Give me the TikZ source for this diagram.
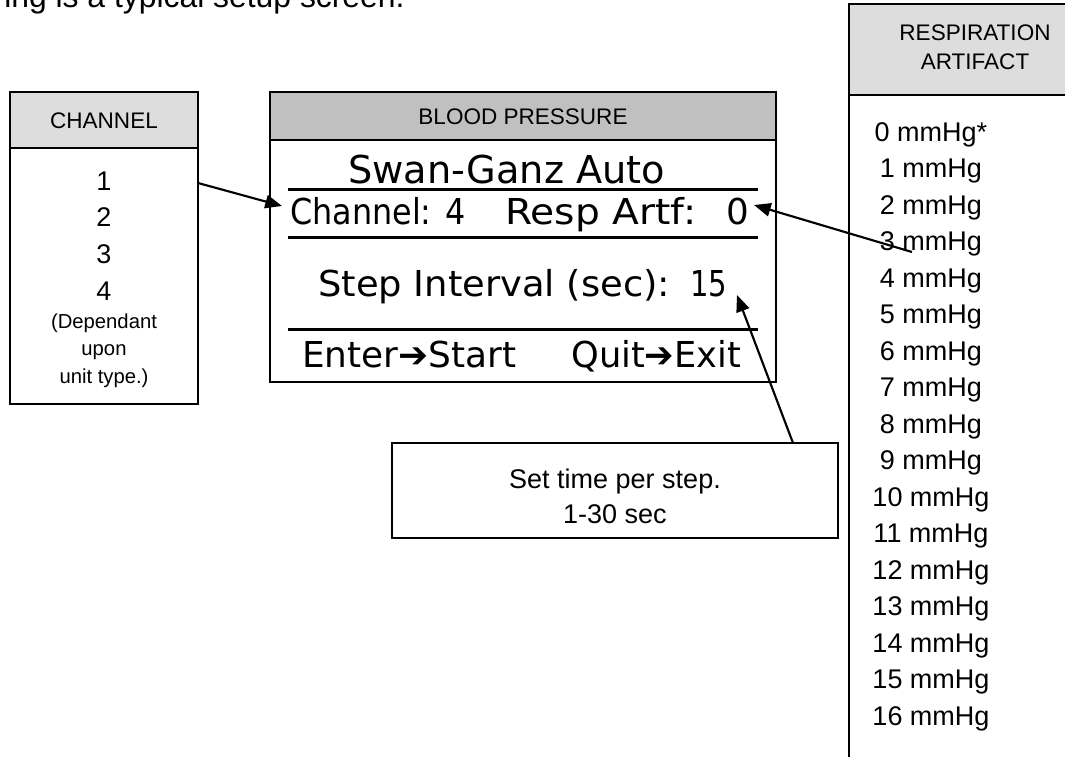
\documentclass[tikz,border=0pt]{standalone}
\usepackage{fontspec}
\usepackage{graphicx}
\setmainfont{Liberation Sans}
\newfontfamily\lcdfont{DejaVu Sans}
\usetikzlibrary{arrows.meta}
\newlength\pxu
\setlength\pxu{0.75pt}
\definecolor{hdrlight}{HTML}{DDDDDD}
\definecolor{hdrdark}{HTML}{C0C0C0}
\begin{document}
\begin{tikzpicture}[x=0.75pt,y=-0.75pt,
  box/.style={draw=black, line width=1.1pt, inner sep=0pt, outer sep=0pt, anchor=north west},
  sz/.style 2 args={minimum width={#1*0.75pt}, minimum height={#2*0.75pt}},
  bodytxt/.style={inner sep=0pt, font=\fontsize{23.9pt}{28pt}\selectfont},
  lsttxt/.style={inner sep=0pt, anchor=base, font=\fontsize{20.25pt}{27.4pt}\selectfont},
  hdrtxt/.style={inner sep=0pt, anchor=base, font=\fontsize{16.9pt}{22pt}\selectfont},
  smalltxt/.style={inner sep=0pt, anchor=base, font=\fontsize{15.2pt}{20.6pt}\selectfont},
  lcd/.style={inner sep=0pt, anchor=base west, font=\lcdfont\fontsize{26.75pt}{30pt}\selectfont},
  lcdbig/.style={inner sep=0pt, anchor=base west, font=\lcdfont\fontsize{28.8pt}{32pt}\selectfont},
  lcdrule/.style={line width=2.25pt, black},
  arr/.style={line width=1.6pt, black, -{Triangle[length=12.5pt, width=10pt]}}
]
\useasboundingbox (0,0) rectangle (1065,757);
\clip (0,0) rectangle (1065,757);
\fill[white] (0,0) rectangle (1065,757);

% top sentence (cut off at the top)
\node[bodytxt, anchor=base west] (intro) at (4,7) {ing is a typical setup screen.};

% CHANNEL box
\node[box, fill=hdrlight, sz={188}{56}] (chhead) at (10,92) {};
\node[box, fill=white, sz={188}{256}] (chbody) at (10,148) {};
\node[hdrtxt] (chtitle) at (104,128) {CHANNEL};
\foreach \i in {1,...,4} {
  \node[lsttxt] (ch\i) at (104,{190+36.7*(\i-1)}) {\i};
}
\node[smalltxt] (dep1) at (104,328) {(Dependant};
\node[smalltxt] (dep2) at (104,355.5) {upon};
\node[smalltxt] (dep3) at (104,383) {unit type.)};

% BLOOD PRESSURE screen
\node[box, fill=hdrdark, sz={506}{48}] (bphead) at (270,92) {};
\node[box, fill=white, sz={506}{242}] (bpbody) at (270,140) {};
\node[hdrtxt] (bptitle) at (523,124) {BLOOD PRESSURE};

\draw[lcdrule] (288,189) -- (758,189);
\draw[lcdrule] (288,237) -- (758,237);
\draw[lcdrule] (288,329) -- (758,329);

\node[lcdbig] (swan) at (348,183) {\resizebox{317\pxu}{\height}{Swan-Ganz Auto}};
\node[lcd] (chan) at (290,224) {\resizebox{175\pxu}{\height}{Channel: 4}};
\node[lcd] (resp) at (505,224) {\resizebox{191\pxu}{\height}{Resp Artf:}};
\node[lcd] (respval) at (726,224) {0};
\node[lcd] (stepi) at (318,296) {\resizebox{352\pxu}{\height}{Step Interval (sec):}};
\node[lcd] (stepval) at (690,296) {\resizebox{37\pxu}{\height}{15}};
\node[lcd] (enter) at (302,367) {\resizebox{214\pxu}{\height}{Enter➔Start}};
\node[lcd] (quit) at (571,367) {\resizebox{170\pxu}{\height}{Quit➔Exit}};

% RESPIRATION ARTIFACT box
\node[box, fill=hdrlight, sz={252}{91}] (rahead) at (849,4) {};
\node[box, fill=white, sz={252}{720}] (rabody) at (849,95) {};
\node[hdrtxt] (ratitle1) at (975,40) {RESPIRATION};
\node[hdrtxt] (ratitle2) at (975,69) {ARTIFACT};
\foreach \i in {0,...,16} {
  \node[lsttxt] (ra\i) at (931,{141+36.5*\i}) {\i\ mmHg\ifnum\i=0 *\fi};
}

% callout box
\node[box, fill=white, sz={446}{95}] (callout) at (392,443) {};
\node[lsttxt] (set1) at (615,488) {Set time per step.};
\node[lsttxt] (set2) at (615,523) {1-30 sec};

% connectors
\coordinate (chsrc) at (198,183);
\coordinate (chdst) at (282,206);
\coordinate (rasrc) at (912,252);
\coordinate (radst) at (754,205);
\coordinate (stsrc) at (793,443);
\coordinate (stdst) at (737,295);
\draw[arr] (chsrc) -- (chdst);
\draw[arr] (rasrc) -- (radst);
\draw[arr] (stsrc) -- (stdst);
\end{tikzpicture}
\end{document}
